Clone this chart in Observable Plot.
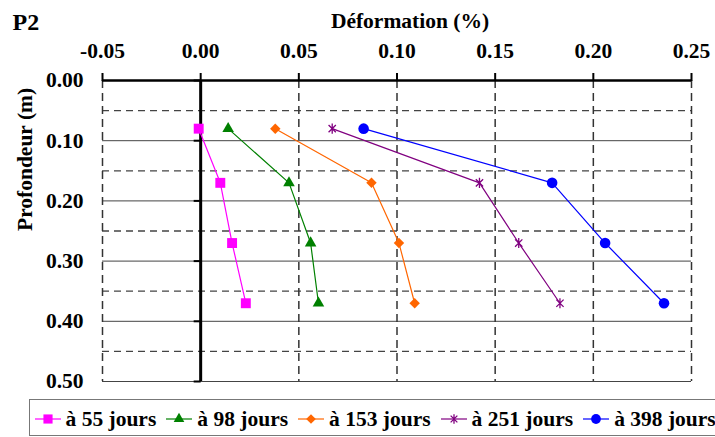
<!DOCTYPE html>
<html><head><meta charset="utf-8">
<script src="https://cdn.jsdelivr.net/npm/d3@7"></script>
<script src="https://cdn.jsdelivr.net/npm/@observablehq/plot@0.6"></script>
<style>
html,body{margin:0;padding:0;background:#fff;}
body{width:715px;height:437px;overflow:hidden;position:relative;font-family:"Liberation Serif","Times New Roman",serif;font-weight:bold;color:#000;}
#chart{position:absolute;left:0;top:0;}
#chart svg, #chart svg text{font-family:"Liberation Serif","Times New Roman",serif !important;font-weight:bold;}
#legend{position:absolute;left:29px;top:399px;width:720px;height:37px;box-sizing:border-box;border:1.5px solid #777;display:flex;align-items:center;padding-left:4.5px;padding-top:3px;font-size:21.5px;white-space:nowrap;}
.item{display:flex;align-items:center;margin-right:10px;}
.item svg{margin-right:5px;overflow:visible;}
</style></head><body>
<div id="chart"></div>
<div id="legend"></div>
<script>
// ---- data ----
const depths = [0.08, 0.17, 0.27, 0.37];
const seriesNames = ["à 55 jours", "à 98 jours", "à 153 jours", "à 251 jours", "à 398 jours"];
const s55  = [-0.001, 0.010, 0.016, 0.023];
const s98  = [0.014, 0.045, 0.056, 0.060];
const s153 = [0.038, 0.087, 0.101, 0.109];
const s251 = [0.067, 0.142, 0.162, 0.183];
const s398 = [0.083, 0.179, 0.206, 0.236];
const xTicks = [-0.05, 0.00, 0.05, 0.10, 0.15, 0.20, 0.25];
const xDashed = [-0.05, 0.05, 0.10, 0.15, 0.20, 0.25];
const yTicks = [0.00, 0.10, 0.20, 0.30, 0.40, 0.50];
const ySolid = [0.10, 0.20, 0.30, 0.40, 0.50];
const yDashed = [0.05, 0.15, 0.25, 0.35, 0.45];
const title = "P2";
const xLabel = "Déformation (%)";
const yLabel = "Profondeur (m)";

// ---- styles ----
const FONT = '"Liberation Serif","Times New Roman",serif';
const colors = ["#FF00FF", "#008000", "#FF6600", "#800080", "#0000FF"];
const starSym = {draw(ctx, size) {
  const r = Math.sqrt(size) * 0.62;
  const d = r * 0.72;
  ctx.moveTo(0, -r); ctx.lineTo(0, r);
  ctx.moveTo(-d, -d); ctx.lineTo(d, d);
  ctx.moveTo(-d, d); ctx.lineTo(d, -d);
}};
const tickLeft = {draw(ctx) { ctx.moveTo(-7, 0); ctx.lineTo(0, 0); }};
const symbols = [d3.symbolSquare, d3.symbolTriangle, d3.symbolDiamond2, starSym, d3.symbolCircle];
const radii = [5.6, 4.3, 4.7, 4.6, 5.3];
const filled = [true, true, true, false, true];

const allSeries = [s55, s98, s153, s251, s398];
const rows = allSeries.flatMap((vals, i) => vals.map((v, j) => ({series: seriesNames[i], idx: i, x: v, depth: depths[j]})));

const seriesMarks = allSeries.flatMap((vals, i) => {
  const data = rows.filter(r => r.idx === i);
  return [
    Plot.line(data, {x: "x", y: "depth", stroke: colors[i], strokeWidth: 1.2}),
    Plot.dot(data, {x: "x", y: "depth", symbol: symbols[i], r: radii[i],
      fill: filled[i] ? colors[i] : "none", stroke: colors[i], strokeWidth: filled[i] ? 0 : 1.3})
  ];
});

const fmt = d => d.toFixed(2);

const chart = Plot.plot({
  width: 715, height: 392,
  marginLeft: 102, marginRight: 24, marginTop: 80, marginBottom: 11,
  x: {domain: [-0.05, 0.25]},
  y: {domain: [0, 0.5], reverse: true},
  style: {fontFamily: FONT, fontSize: "21.5px", fontWeight: "bold", color: "#000", background: "#fff", overflow: "visible"},
  marks: [
    Plot.ruleY(ySolid, {stroke: "#444", strokeWidth: 1}),
    Plot.ruleY(yDashed, {stroke: "#444", strokeWidth: 1.3, strokeDasharray: "7,5"}),
    Plot.ruleX(xDashed, {stroke: "#333", strokeWidth: 1.5, strokeDasharray: "8,5"}),
    Plot.ruleY([0], {stroke: "#000", strokeWidth: 2.5}),
    Plot.ruleX([0], {stroke: "#000", strokeWidth: 3}),
    Plot.dot(yTicks, {x: () => 0, y: d => d, symbol: tickLeft, stroke: "#000", strokeWidth: 2}),
    Plot.axisX(xTicks, {anchor: "top", tickSize: 8, tickPadding: 15, strokeWidth: 2, tickFormat: fmt, label: null, fontFamily: FONT}),
    Plot.axisY(yTicks, {anchor: "left", tickSize: 0, tickPadding: 19, tickFormat: fmt, label: null, fontFamily: FONT}),
    Plot.text([xLabel], {text: d => d, frameAnchor: "top", lineAnchor: "bottom", dy: -53, dx: 13, fontFamily: FONT}),
    Plot.text([title], {text: d => d, frameAnchor: "top-left", textAnchor: "start", lineAnchor: "bottom", dx: -90, dy: -51, fontSize: 24, fontFamily: FONT}),
    Plot.text([yLabel], {text: d => d, frameAnchor: "left", rotate: -90, lineAnchor: "middle", dx: -77, fontFamily: FONT}),
    ...seriesMarks
  ]
});
chart.setAttribute("font-family", FONT);
document.getElementById("chart").appendChild(chart);

// ---- legend ----
const legend = document.getElementById("legend");
seriesNames.forEach((name, i) => {
  const item = document.createElement("span");
  item.className = "item";
  const size = Math.PI * radii[i] * radii[i] * 0.85;
  const path = d3.symbol().type(symbols[i]).size(size)();
  item.innerHTML = `<svg width="26" height="14" viewBox="0 0 26 14">
    <line x1="0" x2="26" y1="7" y2="7" stroke="${colors[i]}" stroke-width="1.2"/>
    <path transform="translate(13,7)" d="${path}" fill="${filled[i] ? colors[i] : "none"}" stroke="${colors[i]}" stroke-width="${filled[i] ? 0 : 1.3}"/>
  </svg><span>${name}</span>`;
  legend.appendChild(item);
});
</script>
</body></html>
